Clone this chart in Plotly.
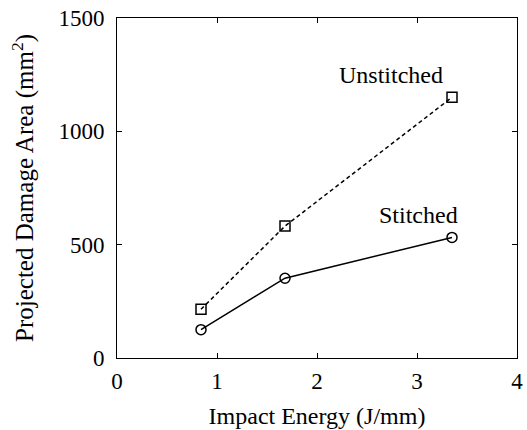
import plotly.graph_objects as go

energy = [0.84, 1.68, 3.35]
unstitched = [215, 582, 1150]
stitched = [125, 352, 532]
x_ticks = [0, 1, 2, 3, 4]
y_ticks = [0, 500, 1000, 1500]

font = "Liberation Serif, Times New Roman, serif"

fig = go.Figure()
fig.add_trace(go.Scatter(
    x=energy, y=unstitched, mode="lines+markers", name="Unstitched",
    line=dict(color="black", width=1.5, dash="4px,3px"),
    marker=dict(symbol="square-open", size=10, color="black", line=dict(width=1.5)),
))
fig.add_trace(go.Scatter(
    x=energy, y=stitched, mode="lines+markers", name="Stitched",
    line=dict(color="black", width=1.5),
    marker=dict(symbol="circle-open", size=10, color="black", line=dict(width=1.5)),
))

fig.add_annotation(x=2.735, y=1250, text="Unstitched", showarrow=False,
                   font=dict(family=font, size=24, color="black"))
fig.add_annotation(x=3.015, y=632, text="Stitched", showarrow=False,
                   font=dict(family=font, size=24, color="black"))

axis_common = dict(
    showgrid=False, zeroline=False, showline=True, linecolor="black", linewidth=1,
    mirror="ticks", ticks="inside", ticklen=5, tickcolor="black",
    tickfont=dict(family=font, size=23, color="black"),
)
fig.update_xaxes(range=[0, 4], tickvals=x_ticks, ticklabelstandoff=2,
                 title=dict(text="Impact Energy (J/mm)", font=dict(family=font, size=24, color="black"), standoff=14),
                 **axis_common)
fig.update_yaxes(range=[0, 1500], tickvals=y_ticks, ticklabelstandoff=7,
                 title=dict(text="Projected Damage Area (mm<sup>2</sup>)", font=dict(family=font, size=25, color="black"), standoff=17),
                 **axis_common)

fig.update_layout(
    width=527, height=430, showlegend=False,
    plot_bgcolor="white", paper_bgcolor="white",
    margin=dict(l=117, r=10, t=18, b=72, autoexpand=False),
    font=dict(family=font, color="black"),
)
fig.write_html("out.html", config={"displayModeBar": False},
               post_script="document.body.style.margin='0';document.body.style.padding='0';document.body.style.overflow='hidden';")
